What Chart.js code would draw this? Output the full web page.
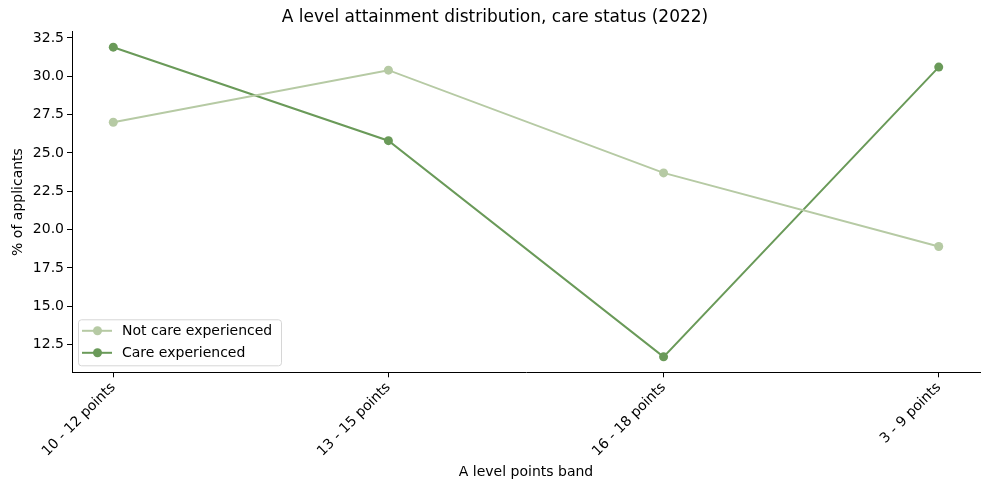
<!DOCTYPE html>
<html>
<head>
<meta charset="utf-8">
<script src="https://cdn.jsdelivr.net/npm/chart.js@4"></script>
<style>
  body { margin: 0; background: #fff; }
  #wrap { width: 989px; height: 490px; }
</style>
</head>
<body>
<div id="wrap"><canvas id="chart"></canvas></div>
<script>
// data
const bands = ['10 - 12 points', '13 - 15 points', '16 - 18 points', '3 - 9 points'];
const notCare = [27.0, 30.4, 23.7, 18.9];
const care = [31.9, 25.8, 11.7, 30.6];
const yTicks = [12.5, 15.0, 17.5, 20.0, 22.5, 25.0, 27.5, 30.0, 32.5];

const lightGreen = '#b6caa4';
const darkGreen = '#6a9a59';
const font = 'DejaVu Sans';

const toPoints = arr => arr.map((v, i) => ({ x: i, y: v }));

// legend drawn inside the plot, bottom left (matplotlib style)
const boxLegend = {
    id: 'boxLegend',
    afterDraw(chart) {
        const { ctx, chartArea } = chart;
        const x = chartArea.left + 6, y = chartArea.bottom - 53, w = 203, h = 46;
        ctx.save();
        ctx.fillStyle = 'rgba(255,255,255,0.8)';
        ctx.strokeStyle = '#d6d6d6';
        ctx.lineWidth = 1;
        ctx.beginPath();
        ctx.roundRect(x + 0.5, y + 0.5, w, h, 3);
        ctx.fill();
        ctx.stroke();
        ctx.font = '14px "' + font + '"';
        ctx.textBaseline = 'middle';
        chart.data.datasets.forEach((ds, i) => {
            const cy = y + 11.5 + i * 22;
            ctx.strokeStyle = ds.borderColor;
            ctx.lineWidth = 2;
            ctx.beginPath();
            ctx.moveTo(x + 4, cy);
            ctx.lineTo(x + 34, cy);
            ctx.stroke();
            ctx.fillStyle = ds.borderColor;
            ctx.beginPath();
            ctx.arc(x + 19.5, cy, 4.5, 0, Math.PI * 2);
            ctx.fill();
            ctx.fillStyle = '#000';
            ctx.fillText(ds.label, x + 44, cy + 1);
        });
        ctx.restore();
    }
};

new Chart(document.getElementById('chart'), {
    type: 'line',
    data: {
        datasets: [{
            label: 'Not care experienced',
            data: toPoints(notCare),
            borderColor: lightGreen,
            backgroundColor: lightGreen,
            borderWidth: 2,
            pointRadius: 4.5,
            pointHoverRadius: 4.5,
            pointBorderWidth: 0
        }, {
            label: 'Care experienced',
            data: toPoints(care),
            borderColor: darkGreen,
            backgroundColor: darkGreen,
            borderWidth: 2,
            pointRadius: 4.5,
            pointHoverRadius: 4.5,
            pointBorderWidth: 0
        }]
    },
    options: {
        responsive: true,
        maintainAspectRatio: false,
        animation: false,
        layout: { padding: { left: 10, right: 9, top: 7, bottom: 6 } },
        plugins: {
            legend: { display: false },
            tooltip: { enabled: false },
            title: {
                display: true,
                text: 'A level attainment distribution, care status (2022)',
                color: '#000',
                font: { family: font, size: 17, weight: 'normal' },
                padding: { top: 0, bottom: 4.3 }
            }
        },
        scales: {
            x: {
                type: 'linear',
                min: -0.15,
                max: 3.15,
                afterBuildTicks: axis => { axis.ticks = bands.map((_, i) => ({ value: i })); },
                afterFit: axis => { axis.height = 111.7; },
                grid: { drawOnChartArea: false, tickLength: 5, tickColor: '#000' },
                border: { color: '#000', width: 1 },
                ticks: {
                    callback: v => bands[v],
                    color: '#000',
                    font: { family: font, size: 14 },
                    maxRotation: 45,
                    minRotation: 45,
                    padding: 2
                },
                title: {
                    display: true,
                    text: 'A level points band',
                    color: '#000',
                    font: { family: font, size: 14 },
                    padding: { top: 0, bottom: 3 }
                }
            },
            y: {
                min: 10.69,
                max: 32.91,
                afterBuildTicks: axis => { axis.ticks = yTicks.map(v => ({ value: v })); },
                afterFit: axis => { axis.width = 62; },
                grid: { drawOnChartArea: false, tickLength: 5, tickColor: '#000' },
                border: { color: '#000', width: 1 },
                ticks: {
                    callback: v => v.toFixed(1),
                    color: '#000',
                    font: { family: font, size: 14 },
                    padding: 3
                },
                title: {
                    display: true,
                    text: '% of applicants',
                    color: '#000',
                    font: { family: font, size: 14 },
                    padding: { top: 0, bottom: 2 }
                }
            }
        }
    },
    plugins: [boxLegend]
});
</script>
</body>
</html>
